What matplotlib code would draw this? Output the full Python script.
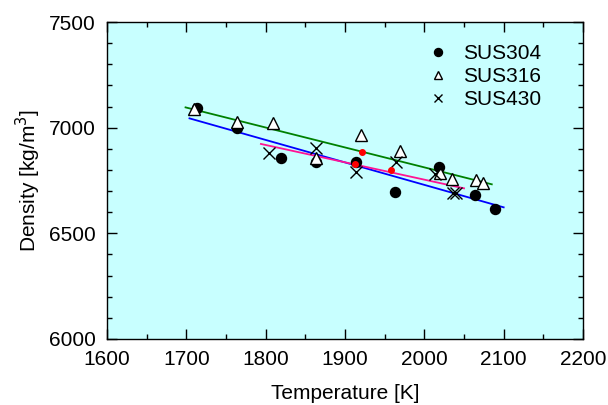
import matplotlib.pyplot as plt
from matplotlib.ticker import MultipleLocator

plt.rcParams["font.family"] = ["Liberation Sans", "DejaVu Sans"]

t_304 = [1714, 1764, 1819, 1864, 1914, 1963, 2019, 2064, 2089]
d_304 = [7092, 7000, 6858, 6836, 6839, 6697, 6812, 6681, 6614]

t_316 = [1710, 1764, 1809, 1864, 1920, 1969, 2020, 2035, 2065, 2074]
d_316 = [7088, 7028, 7020, 6855, 6965, 6889, 6787, 6757, 6752, 6739]

t_430 = [1804, 1864, 1914, 1964, 2014, 2036, 2040]
d_430 = [6879, 6905, 6792, 6836, 6779, 6692, 6692]

t_red = [1913, 1922, 1958]
d_red = [6827, 6886, 6800]

# fitted lines (end points)
fit_304_t = [1704, 2100]
fit_304_d = [7044, 6623]
fit_316_t = [1699, 2085]
fit_316_d = [7096, 6732]
fit_430_t = [1794, 2050]
fit_430_d = [6923, 6713]

fs = 15

fig = plt.figure(figsize=(6.08, 4.05), dpi=100)
ax = fig.add_axes([107 / 608, 1 - 339 / 405, 476 / 608, 317 / 405])
ax.set_facecolor("#c8ffff")

ax.plot(fit_316_t, fit_316_d, color="#008000", lw=1.3, zorder=2)
ax.plot(fit_304_t, fit_304_d, color="#0000ff", lw=1.3, zorder=2)
ax.plot(fit_430_t, fit_430_d, color="#ff1493", lw=1.3, zorder=2)

ax.plot(t_304, d_304, "o", color="black", ms=7.2, ls="none", label="SUS304", zorder=3)
ax.plot(t_316, d_316, "^", mfc="white", mec="black", mew=1.0, ms=8, ls="none",
        label="SUS316", zorder=4)
ax.plot(t_430, d_430, "x", color="black", mew=1.0, ms=8, ls="none", label="SUS430", zorder=4)
ax.plot(t_red, d_red, "o", color="red", ms=4, ls="none", zorder=5)

ax.set_xlim(1600, 2200)
ax.set_ylim(6000, 7500)
ax.xaxis.set_major_locator(MultipleLocator(100))
ax.xaxis.set_minor_locator(MultipleLocator(50))
ax.yaxis.set_major_locator(MultipleLocator(500))
ax.yaxis.set_minor_locator(MultipleLocator(100))
ax.tick_params(which="both", direction="in", top=True, right=True, width=1.0,
               labelsize=fs)
ax.tick_params(which="major", length=7)
ax.tick_params(which="minor", length=3.6)
ax.tick_params(axis="x", pad=8)
ax.tick_params(axis="y", pad=8)
for s in ax.spines.values():
    s.set_linewidth(1.0)

ax.set_xlabel("Temperature [K]", fontsize=fs, labelpad=11)
ax.set_ylabel("Density [kg/m$^3$]", fontsize=fs, labelpad=4)

leg = ax.legend(loc="upper left", bbox_to_anchor=(0.639, 0.99), frameon=False,
                fontsize=fs, handlelength=0.8, handletextpad=0.8,
                labelspacing=0.2, markerscale=0.8)

fig.savefig("out.png", dpi=100)
